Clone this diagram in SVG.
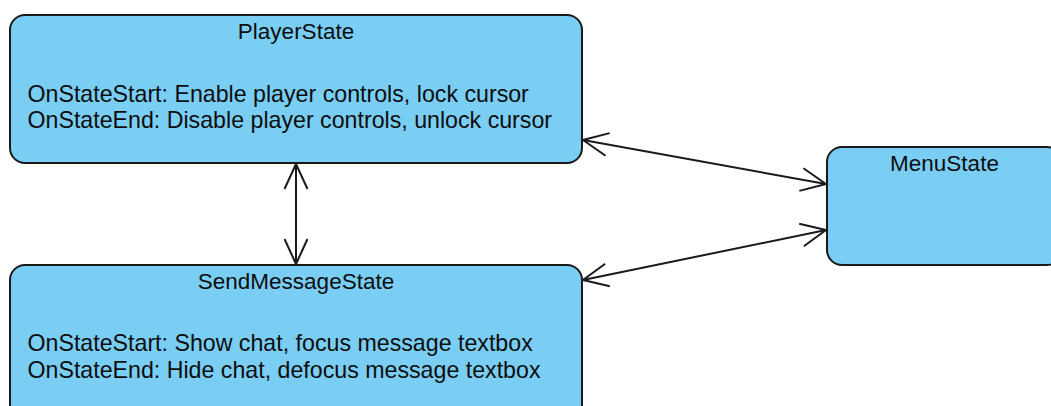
<svg xmlns="http://www.w3.org/2000/svg" width="1051" height="406" viewBox="0 0 1051 406">
  <style>
    .node rect { fill: #7acef4; stroke: #1a1a1a; stroke-width: 2; }
    .title { font-family: "Liberation Sans", Arial, sans-serif; font-size: 22.5px; fill: #0d0d0d; text-anchor: middle; }
    .body { font-family: "Liberation Sans", Arial, sans-serif; font-size: 23.2px; fill: #0d0d0d; }
    .conn { stroke: #1a1a1a; stroke-width: 2; fill: none; marker-start: url(#arr); marker-end: url(#arr); }
  </style>
  <defs>
    <marker id="arr" markerUnits="userSpaceOnUse" viewBox="-27 -14 30 28" refX="0" refY="0" markerWidth="30" markerHeight="28" orient="auto-start-reverse" overflow="visible">
      <path d="M -25 -11.5 L 0 0 L -25 11.5" fill="none" stroke="#1a1a1a" stroke-width="2"/>
    </marker>
  </defs>
  <rect width="1051" height="406" fill="#ffffff"/>
  <g id="PlayerState" class="node">
    <rect x="10" y="15" width="572" height="148" rx="15" ry="15"/>
    <text class="title" x="296" y="39">PlayerState</text>
    <text class="body" x="27.5" y="101.5">OnStateStart: Enable player controls, lock cursor</text>
    <text class="body" x="27.5" y="128">OnStateEnd: Disable player controls, unlock cursor</text>
  </g>
  <g id="SendMessageState" class="node">
    <rect x="10" y="265" width="572" height="160" rx="15" ry="15"/>
    <text class="title" x="296" y="289">SendMessageState</text>
    <text class="body" x="27.5" y="351">OnStateStart: Show chat, focus message textbox</text>
    <text class="body" x="27.5" y="377.5">OnStateEnd: Hide chat, defocus message textbox</text>
  </g>
  <g id="MenuState" class="node">
    <rect x="827" y="147" width="235" height="118" rx="15" ry="15"/>
    <text class="title" x="944.5" y="171">MenuState</text>
  </g>
  <g id="connectors">
    <line class="conn" x1="296" y1="164" x2="296" y2="264"/>
    <line class="conn" x1="583" y1="140" x2="826" y2="184"/>
    <line class="conn" x1="583" y1="280" x2="826" y2="230"/>
  </g>
</svg>
